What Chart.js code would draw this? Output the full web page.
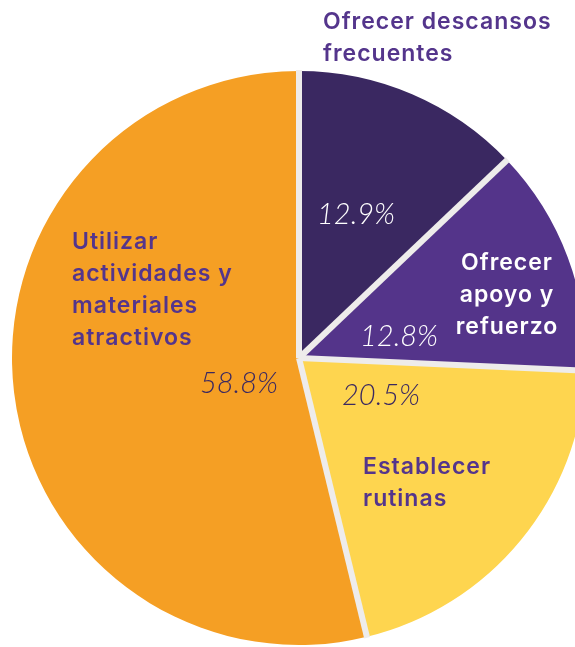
<!DOCTYPE html>
<html>
<script src="https://cdn.jsdelivr.net/npm/chart.js"></script>
<body style="margin:0;overflow:hidden;background-color:#ffffff;">
<canvas id="pieChart" width="598" height="647"></canvas>

<script>
// slices as drawn (clockwise from 12 o'clock); printed labels kept as read
var categories = [['Ofrecer descansos', 'frecuentes'], ['Ofrecer', 'apoyo y', 'refuerzo'], ['Establecer', 'rutinas'], ['Utilizar', 'actividades y', 'materiales', 'atractivos']];
var sliceValues = [12.9, 12.8, 20.5, 53.8];
var percentText = ['12.9%', '12.8%', '20.5%', '58.8%'];
var sliceColors = ['#3a2861', '#54348a', '#fed54f', '#f59f24'];

// text placement, offsets from the pie centre
var nameSpots = [
  {dx: 24, dy: -329, align: 'left', color: '#54358c'},
  {dx: 208, dy: -88, align: 'center', color: '#ffffff'},
  {dx: 64, dy: 116, align: 'left', color: '#54358c'},
  {dx: -227, dy: -109, align: 'left', color: '#54358c'}
];
var pctSpots = [
  {dx: 18, dy: -134, align: 'left', color: '#ffffff'},
  {dx: 61, dy: -12, align: 'left', color: '#ffffff'},
  {dx: 43, dy: 47, align: 'left', color: '#3a2861'},
  {dx: -21, dy: 35, align: 'right', color: '#3a2861'}
];

var pieText = {
  id: 'pieText',
  afterDatasetsDraw: function(chart) {
    var ctx = chart.ctx;
    var arcs = chart.getDatasetMeta(0).data;
    var cx = arcs[0].x, cy = arcs[0].y;
    ctx.save();
    // separators between slices
    ctx.strokeStyle = '#eeeceb';
    ctx.lineWidth = 6;
    arcs.forEach(function(arc) {
      ctx.beginPath();
      ctx.moveTo(cx, cy);
      ctx.lineTo(cx + Math.cos(arc.startAngle) * (arc.outerRadius + 1), cy + Math.sin(arc.startAngle) * (arc.outerRadius + 1));
      ctx.stroke();
    });
    ctx.textBaseline = 'alphabetic';
    categories.forEach(function(lines, i) {
      var s = nameSpots[i];
      ctx.font = '600 23px Inter';
      ctx.letterSpacing = '1px';
      ctx.fillStyle = s.color;
      ctx.textAlign = s.align;
      lines.forEach(function(line, j) {
        ctx.fillText(line, cx + s.dx, cy + s.dy + j * 32);
      });
      var p = pctSpots[i];
      ctx.font = 'italic 300 29px Lato';
      ctx.letterSpacing = '0px';
      ctx.fillStyle = p.color;
      ctx.textAlign = p.align;
      ctx.fillText(percentText[i], cx + p.dx, cy + p.dy);
    });
    ctx.restore();
  }
};

new Chart('pieChart', {
  type: 'pie',
  data: {
    labels: categories.map(function(c) { return c.join(' '); }),
    datasets: [{
      data: sliceValues,
      backgroundColor: sliceColors,
      borderWidth: 0
    }]
  },
  options: {
    responsive: false,
    animation: false,
    radius: 287,
    layout: {padding: {top: 69}},
    plugins: {
      legend: {display: false},
      tooltip: {enabled: false}
    }
  },
  plugins: [pieText]
});
</script>
</body>
</html>
